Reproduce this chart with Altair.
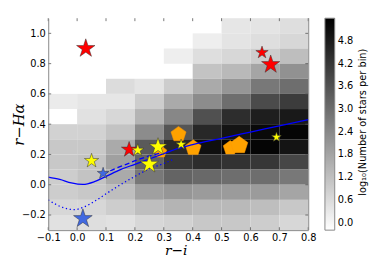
import altair as alt
import pandas as pd

# ---------------- data ----------------
# 2D histogram: left edges of r-i bins, bottom edges of r-Halpha bins (top row first)
x_left = [-0.1, 0.0, 0.1, 0.2, 0.3, 0.4, 0.5, 0.6, 0.7]
y_bottom = [1.0, 0.9, 0.8, 0.7, 0.6, 0.5, 0.4, 0.3, 0.2, 0.1, 0.0, -0.1, -0.2, -0.3]
N = None
log_counts = [
    [N, N, N, N, N, N, 0.35, 0.39, 0.52],
    [N, N, N, N, N, 0.17, 0.39, 0.52, 0.68],
    [N, N, N, N, 0.17, 0.52, 0.68, 0.90, 1.23],
    [N, N, N, N, N, 1.12, 1.34, 1.78, 2.22],
    [N, N, 0.57, 0.39, 0.90, 1.67, 2.11, 2.76, 2.98],
    [0.24, 0.35, 0.35, 0.90, 1.67, 2.33, 2.98, 3.75, 4.08],
    [N, 0.46, 0.68, 1.45, 2.44, 3.64, 4.41, 4.74, 4.85],
    [0.79, 0.79, 1.12, 2.33, 3.53, 4.52, 4.96, 5.18, 5.29],
    [1.01, 1.01, 1.67, 3.42, 4.52, 5.07, 5.29, 5.29, 4.96],
    [1.01, 1.12, 1.89, 3.20, 4.19, 4.41, 4.30, 4.19, 3.86],
    [0.90, 1.12, 1.67, 2.76, 3.20, 3.09, 2.98, 2.98, 2.76],
    [0.90, 1.01, 1.23, 1.89, 2.11, 2.00, 2.00, 2.00, 1.78],
    [0.68, 0.68, 0.90, 1.23, 1.45, 1.34, 1.34, 1.23, 1.01],
    [0.46, 0.52, 0.46, 0.68, 0.79, 1.01, 1.01, 0.90, 0.68],
]
bin_w = 0.1

# lines
solid_x = [-0.1, -0.06, -0.02, 0.02, 0.06, 0.1, 0.15, 0.2, 0.25, 0.3, 0.35, 0.4, 0.5, 0.6, 0.7, 0.8]
solid_y = [0.05, 0.035, 0.012, 0.002, 0.02, 0.055, 0.10, 0.135, 0.17, 0.205, 0.24, 0.265, 0.307, 0.348, 0.389, 0.43]
dashed_x = [0.09, 0.13, 0.17, 0.21, 0.25, 0.29]
dashed_y = [0.07, 0.105, 0.135, 0.165, 0.19, 0.21]
dotted_x = [-0.1, -0.05, -0.01, 0.02, 0.06, 0.1, 0.15, 0.2, 0.25, 0.3, 0.33]
dotted_y = [-0.10, -0.15, -0.165, -0.15, -0.11, -0.06, 0.0, 0.055, 0.105, 0.14, 0.165]

# star markers
star_x = [0.03, 0.64, 0.67, 0.18, 0.05, 0.21, 0.28, 0.25, 0.36, 0.69, 0.09, 0.02]
star_y = [0.90, 0.873, 0.794, 0.232, 0.158, 0.228, 0.25, 0.135, 0.266, 0.314, 0.075, -0.224]
star_c = ["#ff0000", "#ff0000", "#ff0000", "#ff0000", "#ffff00", "#ffff00", "#ffff00",
          "#ffff00", "#ffff00", "#ffff00", "#4169e1", "#4169e1"]
star_s = [390, 175, 380, 275, 235, 175, 350, 380, 125, 110, 155, 400]

# pentagon markers
pent_x = [0.289, 0.351, 0.402, 0.530, 0.561]
pent_y = [0.217, 0.333, 0.243, 0.243, 0.26]
pent_s = [170, 260, 280, 225, 340]

x_ticks = [-0.1, 0.0, 0.1, 0.2, 0.3, 0.4, 0.5, 0.6, 0.7, 0.8]
y_ticks = [-0.2, 0.0, 0.2, 0.4, 0.6, 0.8, 1.0]
cbar_ticks = [0.0, 0.6, 1.2, 1.8, 2.4, 3.0, 3.6, 4.2, 4.8]
cbar_title = "log\u2081\u2080(Number of stars per bin)"

# ---------------- build tables ----------------
cells = []
for i, yb in enumerate(y_bottom):
    for j, xl in enumerate(x_left):
        v = log_counts[i][j]
        if v is not None:
            cells.append({"x0": xl, "x1": xl + bin_w, "y0": yb, "y1": yb + bin_w, "v": v})
cells = pd.DataFrame(cells)

lines = pd.concat([
    pd.DataFrame({"x": solid_x, "y": solid_y, "k": "solid"}),
    pd.DataFrame({"x": dashed_x, "y": dashed_y, "k": "dashed"}),
    pd.DataFrame({"x": dotted_x, "y": dotted_y, "k": "dotted"}),
])
stars = pd.DataFrame({"x": star_x, "y": star_y, "c": star_c, "s": star_s})
pents = pd.DataFrame({"x": pent_x, "y": pent_y, "s": pent_s})

W, H = 265, 216
SPINE = "#888888"
xs = alt.Scale(domain=[-0.1, 0.8], nice=False, zero=False)
ys = alt.Scale(domain=[-0.3, 1.1], nice=False, zero=False)
xaxis = alt.Axis(values=x_ticks, format=".1f", ticks=False, tickSize=0, labelPadding=3,
                 labelOverlap=False, labelFlush=False,
                 domainColor=SPINE, grid=False, zindex=1, title="r\u2212i",
                 titleFont="DejaVu Serif", titleFontStyle="italic", titleFontWeight="normal",
                 titleFontSize=14, titleX=130, titleY=21, titleBaseline="middle")
yaxis = alt.Axis(values=y_ticks, format=".1f", ticks=False, tickSize=0, labelPadding=3,
                 labelOverlap=False, labelFlush=False,
                 domainColor=SPINE, grid=False, zindex=1, title="r\u2212H\u03b1",
                 titleFont="DejaVu Serif", titleFontStyle="italic", titleFontWeight="normal",
                 titleFontSize=15, titleX=-30, titleY=108, titleAngle=270,
                 titleAlign="center", titleBaseline="middle")


def X(f, **kw):
    return alt.X(f, type="quantitative", scale=xs, axis=xaxis, **kw)


def Y(f, **kw):
    return alt.Y(f, type="quantitative", scale=ys, axis=yaxis, **kw)


heat = alt.Chart(cells).mark_rect(strokeWidth=0).encode(
    x=X("x0"), x2="x1", y=Y("y0"), y2="y1",
    color=alt.Color("v:Q",
                    scale=alt.Scale(domain=[-0.2, 5.4], range=["#ffffff", "#000000"],
                                    interpolate="rgb", nice=False, zero=False),
                    legend=alt.Legend(title=None, orient="right", offset=17, padding=0,
                                      gradientLength=H, gradientThickness=10,
                                      values=cbar_ticks, format=".1f", labelFontSize=10,
                                      labelFont="DejaVu Sans", labelOffset=3,
                                      gradientStrokeColor=SPINE, gradientStrokeWidth=1)),
)

PENT = "M0,-1L0.9511,-0.309L0.5878,0.809L-0.5878,0.809L-0.9511,-0.309Z"
STAR = ("M0,-1L0.2245,-0.309L0.9511,-0.309L0.3633,0.118L0.5878,0.809L0,0.382"
        "L-0.5878,0.809L-0.3633,0.118L-0.9511,-0.309L-0.2245,-0.309Z")

pent_layer = alt.Chart(pents).mark_point(shape=PENT, filled=True, fill="#ffa200",
                                         stroke="#ff9900", strokeWidth=0.5, opacity=1).encode(
    x=X("x"), y=Y("y"), size=alt.Size("s:Q", scale=None))

solid = alt.Chart(lines[lines.k == "solid"]).mark_line(
    color="#0000ff", strokeWidth=1.3, interpolate="monotone").encode(x=X("x"), y=Y("y"))
dashed = alt.Chart(lines[lines.k == "dashed"]).mark_line(
    color="#0000ff", strokeWidth=1.3, strokeDash=[5, 3], interpolate="monotone").encode(x=X("x"), y=Y("y"))
dotted = alt.Chart(lines[lines.k == "dotted"]).mark_line(
    color="#0000ff", strokeWidth=1.3, strokeDash=[1.3, 2.7], interpolate="monotone").encode(x=X("x"), y=Y("y"))

star_layer = alt.Chart(stars).mark_point(shape=STAR, filled=True, stroke="#333333",
                                         strokeWidth=0.5, opacity=1).encode(
    x=X("x"), y=Y("y"), size=alt.Size("s:Q", scale=None), fill=alt.Fill("c:N", scale=None))

# inward ticks on all four sides, and right spine
xt = pd.DataFrame({"v": x_ticks})
yt = pd.DataFrame({"v": y_ticks})
tick_top = alt.Chart(xt).mark_rule(color="#555555", strokeWidth=0.8).encode(
    x=X("v"), y=alt.value(0), y2=alt.value(3))
tick_bot = alt.Chart(xt).mark_rule(color="#555555", strokeWidth=0.8).encode(
    x=X("v"), y=alt.value(H), y2=alt.value(H - 3))
tick_left = alt.Chart(yt).mark_rule(color="#555555", strokeWidth=0.8).encode(
    y=Y("v"), x=alt.value(0), x2=alt.value(3))
tick_right = alt.Chart(yt).mark_rule(color="#555555", strokeWidth=0.8).encode(
    y=Y("v"), x=alt.value(W), x2=alt.value(W - 3))
right_spine = alt.Chart(pd.DataFrame({"a": [0]})).mark_rule(color=SPINE, strokeWidth=1).encode(
    x=alt.value(W + 0.5), y=alt.value(0), y2=alt.value(H))

cb_title = alt.Chart(pd.DataFrame({"t": [cbar_title]})).mark_text(
    angle=270, font="DejaVu Sans", fontSize=10, align="center", baseline="middle", color="black"
).encode(text="t:N", x=alt.value(321), y=alt.value(106))

chart = alt.layer(
    heat, pent_layer, solid, dashed, dotted, star_layer,
    tick_top, tick_bot, tick_left, tick_right, right_spine, cb_title
).properties(
    width=W, height=H,
    autosize=alt.AutoSizeParams(type="none"),
    padding={"left": 41, "top": 8, "right": 66, "bottom": 27},
).configure_view(stroke=None).configure_axis(
    labelFont="DejaVu Sans", labelFontSize=10, labelColor="black"
)

chart.save("out.html", embed_options={"renderer": "svg", "actions": False})
